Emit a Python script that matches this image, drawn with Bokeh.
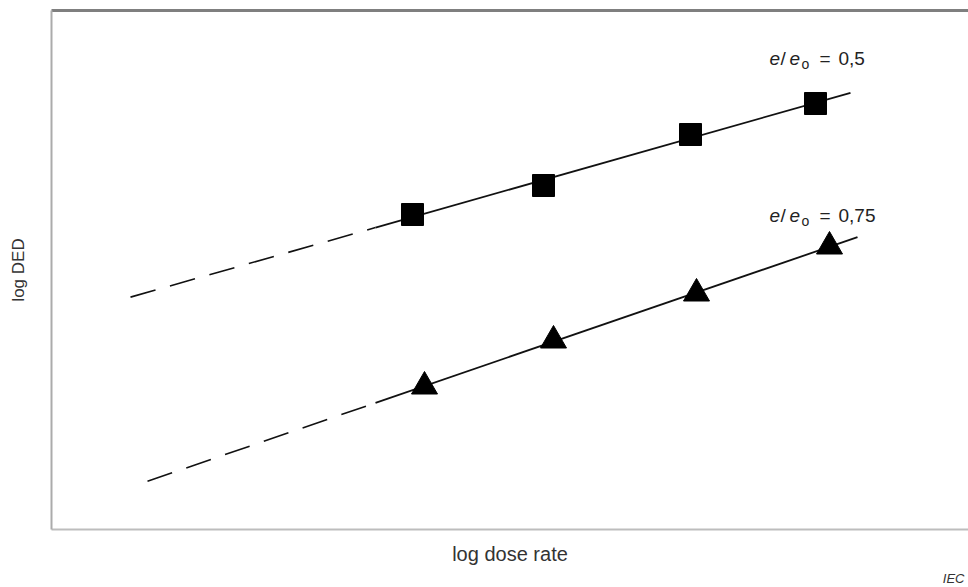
import numpy as np
from bokeh.plotting import figure
from bokeh.models import Range1d, LinearAxis, FixedTicker, Title, ColumnDataSource
from bokeh.core.properties import value
from bokeh.embed import file_html
from bokeh.resources import INLINE

# log dose rate / log DED readings (arbitrary log units)
sq_x = [3.61, 4.92, 6.39, 7.64]          # e/eo = 0,5
sq_y = [3.15, 3.44, 3.95, 4.26]
tri_x = [3.73, 5.02, 6.45, 7.78]         # e/eo = 0,75
tri_y = [1.43, 1.89, 2.36, 2.83]

# extent of the fitted lines: dashed extrapolation, then solid
sq_line_x = [0.79, 3.24, 7.99]
tri_line_x = [0.96, 3.24, 8.06]

series_labels = ["0,5", "0,75"]
label_anchor_x = [7.18, 7.18]
label_anchor_y = [4.71, 3.14]
x_title = "log dose rate"
y_title = "log DED"

FONT = "Liberation Sans"
INK = "#111111"

p = figure(width=968, height=587, x_range=Range1d(0, 9.17), y_range=Range1d(0, 5.19),
           output_backend="svg", toolbar_location=None,
           min_border_left=51, min_border_right=0, min_border_top=10, min_border_bottom=58,
           outline_line_color=None, background_fill_color="white", border_fill_color="white")
p.xgrid.visible = False
p.ygrid.visible = False


def bare(axis, color, width):
    axis.ticker = FixedTicker(ticks=[])
    axis.major_tick_line_color = None
    axis.minor_tick_line_color = None
    axis.major_label_text_font_size = "0px"
    axis.axis_line_color = color
    axis.axis_line_width = width
    axis.axis_label_text_font = FONT
    axis.axis_label_text_font_style = "normal"
    axis.axis_label_text_color = "#333333"


bare(p.xaxis[0], "#bdbdbd", 2)
bare(p.yaxis[0], "#ababab", 2)
p.xaxis[0].axis_label = x_title
p.xaxis[0].axis_label_text_font_size = "20px"
p.xaxis[0].axis_label_standoff = 13
p.yaxis[0].axis_label = y_title
p.yaxis[0].axis_label_text_font_size = "17px"
p.yaxis[0].axis_label_standoff = 24
top = LinearAxis()
bare(top, "#7f7f7f", 3)
p.add_layout(top, "above")

p.add_layout(Title(text="IEC", align="right", text_font=FONT, text_font_size="13px",
                   text_font_style="italic", text_color="#333333", offset=4, standoff=2),
             "below")


def draw_series(xs, ys, xl, marker, size):
    k, b = np.polyfit(xs, ys, 1)
    xl = np.array(xl)
    yl = k * xl + b
    p.line(xl[:2], yl[:2], line_color=INK, line_width=1.6, line_dash="26 15")
    p.line(xl[1:], yl[1:], line_color=INK, line_width=1.8)
    p.scatter(xs, ys, marker=marker, size=size, fill_color="black", line_color="black")


draw_series(sq_x, sq_y, sq_line_x, "square", 22)
draw_series(tri_x, tri_y, tri_line_x, "triangle", 26)

# "e/eo = v" built from pieces: italic e, slash, italic e, subscript o, "=", value
pieces = [("e", "italic", 0, 0, "19px"),
          ("/", "normal", 11, 0, "19px"),
          ("e", "italic", 20, 0, "19px"),
          ("o", "normal", 32, -5, "14px"),
          ("=", "normal", 50, 0, "19px"),
          ("{}", "normal", 69, 0, "19px")]
for txt, style, dx, dy, fs in pieces:
    src = ColumnDataSource(dict(
        x=label_anchor_x, y=label_anchor_y,
        t=[txt.format(v) for v in series_labels]))
    p.text(x="x", y="y", text="t", source=src, x_offset=dx, y_offset=-dy,
           text_font=value(FONT), text_font_style=style, text_font_size=value(fs),
           text_color="#222222", text_baseline="alphabetic", text_align="left")

open("out.html", "w").write(file_html(p, INLINE))
